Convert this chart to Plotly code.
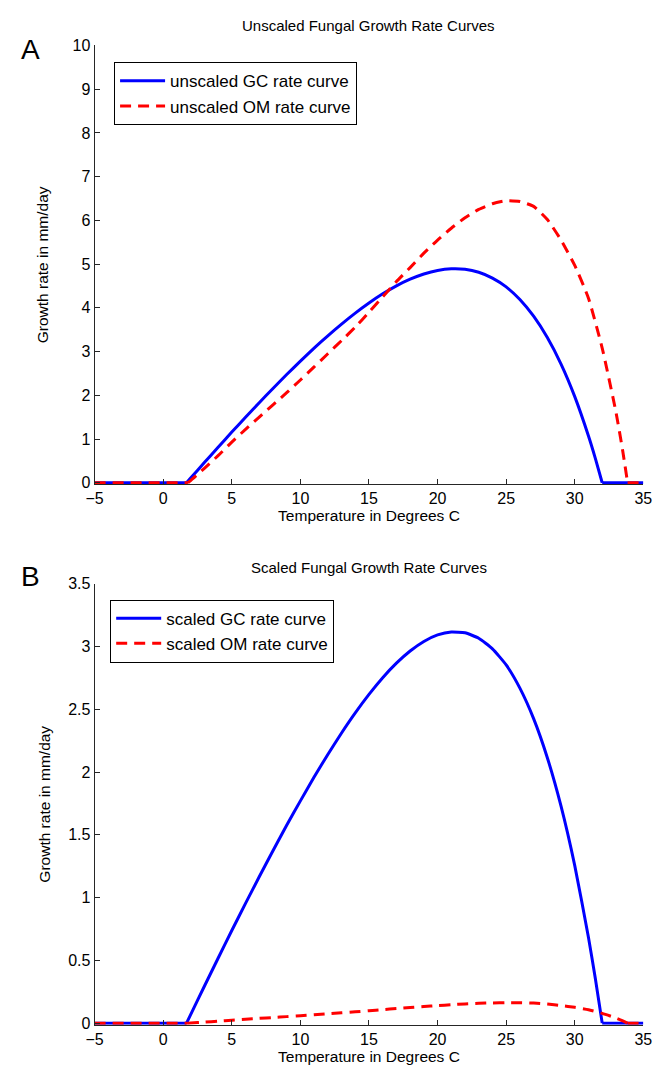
import plotly.graph_objects as go

# ---------------- data ----------------
# flat zero stretches outside the growth range
gc_flat_left_t = [-5, 1.7]
gc_flat_right_t = [32, 35]
om_flat_left_t = [-5, 1.8]
om_flat_right_t = [33.85, 35]
flat_zero = [0, 0]

t_gc = [1.7, 2, 3, 4, 5, 6, 7, 8, 9, 10, 11, 12, 13, 14, 15, 16, 17, 18, 19, 20,
        21, 22, 23, 24, 25, 26, 27, 28, 29, 30, 31, 31.5, 32]
gc_unscaled = [0, 0.107, 0.462, 0.812, 1.158, 1.498, 1.831, 2.157, 2.475, 2.78, 3.078,
               3.361, 3.629, 3.880, 4.111, 4.32, 4.502, 4.654, 4.774, 4.856, 4.893, 4.882,
               4.814, 4.681, 4.48, 4.190, 3.808, 3.32, 2.714, 1.97, 1.07, 0.559, 0]
gc_scaled = [0, 0.068, 0.294, 0.517, 0.738, 0.954, 1.166, 1.374, 1.577, 1.771, 1.961,
             2.141, 2.312, 2.472, 2.619, 2.752, 2.868, 2.965, 3.041, 3.093, 3.117, 3.110,
             3.067, 2.982, 2.854, 2.669, 2.426, 2.115, 1.729, 1.255, 0.682, 0.356, 0]

t_om = [1.8, 2, 3, 4, 5, 6, 7, 8, 9, 10, 11, 12, 13, 14, 15, 16, 17, 18, 19, 20,
        21, 22, 23, 24, 25, 26, 27, 28, 29, 30, 31, 32, 33, 33.5, 33.85]
om_unscaled = [0, 0.05, 0.33, 0.62, 0.93, 1.22, 1.5, 1.78, 2.06, 2.35, 2.65, 2.95, 3.25,
               3.56, 3.9, 4.25, 4.6, 4.92, 5.25, 5.55, 5.82, 6.06, 6.25, 6.38, 6.45, 6.43,
               6.32, 6.02, 5.55, 4.97, 4.22, 3.08, 1.62, 0.72, 0]
om_scaled = [0, 0.001, 0.008, 0.016, 0.024, 0.031, 0.038, 0.045, 0.052, 0.059, 0.067,
             0.075, 0.082, 0.090, 0.099, 0.108, 0.116, 0.124, 0.133, 0.140, 0.147, 0.153,
             0.158, 0.161, 0.163, 0.163, 0.160, 0.152, 0.140, 0.126, 0.107, 0.078, 0.041,
             0.018, 0]

x_ticks = [-5, 0, 5, 10, 15, 20, 25, 30, 35]
top_title = "Unscaled Fungal Growth Rate Curves"
bottom_title = "Scaled Fungal Growth Rate Curves"
x_label = "Temperature in Degrees C"
y_label = "Growth rate in mm/day"

# ---------------- figure ----------------
W, H = 665, 1078
FONT = "Liberation Sans, Arial, sans-serif"
BLUE = "#0000ff"
RED = "#ff0000"
DASH = "11px,7px"

fig = go.Figure()


def add_series(t, y, flat_l, flat_r, name, color, dash, xa, ya, leg):
    line = dict(color=color, width=3)
    if dash:
        line["dash"] = dash
    for ft in (flat_l, flat_r):
        fig.add_trace(go.Scatter(x=ft, y=flat_zero, mode="lines", line=line,
                                 xaxis=xa, yaxis=ya, showlegend=False, hoverinfo="skip",
                                 legend=leg))
    fig.add_trace(go.Scatter(x=t, y=y, mode="lines", name=name,
                             line=dict(line, shape="spline", smoothing=0.5),
                             xaxis=xa, yaxis=ya, legend=leg))


add_series(t_gc, gc_unscaled, gc_flat_left_t, gc_flat_right_t, "unscaled GC rate curve",
           BLUE, None, "x", "y", "legend")
add_series(t_om, om_unscaled, om_flat_left_t, om_flat_right_t, "unscaled OM rate curve",
           RED, DASH, "x", "y", "legend")
add_series(t_gc, gc_scaled, gc_flat_left_t, gc_flat_right_t, "scaled GC rate curve",
           BLUE, None, "x2", "y2", "legend2")
add_series(t_om, om_scaled, om_flat_left_t, om_flat_right_t, "scaled OM rate curve",
           RED, DASH, "x2", "y2", "legend2")


def px_x(p):
    return p / W


def px_y(p):
    return 1 - p / H


L, R = 88, 652
top1, bot1 = 38, 483
top2, bot2 = 584, 1031

axis_common = dict(showline=True, linecolor="#262626", linewidth=1, ticks="inside",
                   ticklen=5, tickcolor="#262626", tickwidth=1, showgrid=False,
                   zeroline=False, tickfont=dict(family=FONT, size=16, color="black"),
                   mirror=False)

fig.update_layout(
    width=W, height=H,
    margin=dict(l=0, r=0, t=0, b=0),
    paper_bgcolor="white", plot_bgcolor="white",
    font=dict(family=FONT, color="black"),
    xaxis=dict(domain=[px_x(L), px_x(R)], anchor="y", range=[-5, 35], tickvals=x_ticks,
               title=dict(text=x_label, font=dict(size=15.5), standoff=3), **axis_common),
    yaxis=dict(domain=[px_y(bot1), px_y(top1)], anchor="x", range=[-0.035, 10], dtick=1,
               tick0=0, title=dict(text=y_label, font=dict(size=15.5), standoff=20), **axis_common),
    xaxis2=dict(domain=[px_x(L), px_x(R)], anchor="y2", range=[-5, 35], tickvals=x_ticks,
                title=dict(text=x_label, font=dict(size=15.5), standoff=3), **axis_common),
    yaxis2=dict(domain=[px_y(bot2), px_y(top2)], anchor="x2", range=[-0.012, 3.5], dtick=0.5,
                tick0=0, title=dict(text=y_label, font=dict(size=15.5), standoff=13), **axis_common),
    legend=dict(x=px_x(108), y=px_y(55), xanchor="left", yanchor="top",
                bordercolor="black", borderwidth=1, bgcolor="white",
                font=dict(family=FONT, size=17), tracegroupgap=0, itemwidth=45),
    legend2=dict(x=px_x(104), y=px_y(600), xanchor="left", yanchor="top",
                 bordercolor="black", borderwidth=1, bgcolor="white",
                 font=dict(family=FONT, size=17), tracegroupgap=0, itemwidth=45),
    showlegend=True,
    annotations=[
        dict(text=top_title, x=px_x((L + R) / 2), y=px_y(18), xref="paper", yref="paper",
             showarrow=False, font=dict(size=15, family=FONT), xanchor="center", yanchor="middle"),
        dict(text=bottom_title, x=px_x((L + R) / 2), y=px_y(567), xref="paper", yref="paper",
             showarrow=False, font=dict(size=15, family=FONT), xanchor="center", yanchor="middle"),
        dict(text="A", x=px_x(22), y=px_y(42), xref="paper", yref="paper", showarrow=False,
             font=dict(size=28, family=FONT), xanchor="center", yanchor="middle"),
        dict(text="B", x=px_x(22), y=px_y(577), xref="paper", yref="paper", showarrow=False,
             font=dict(size=28, family=FONT), xanchor="center", yanchor="middle"),
    ],
)

fig.write_html("out.html")
